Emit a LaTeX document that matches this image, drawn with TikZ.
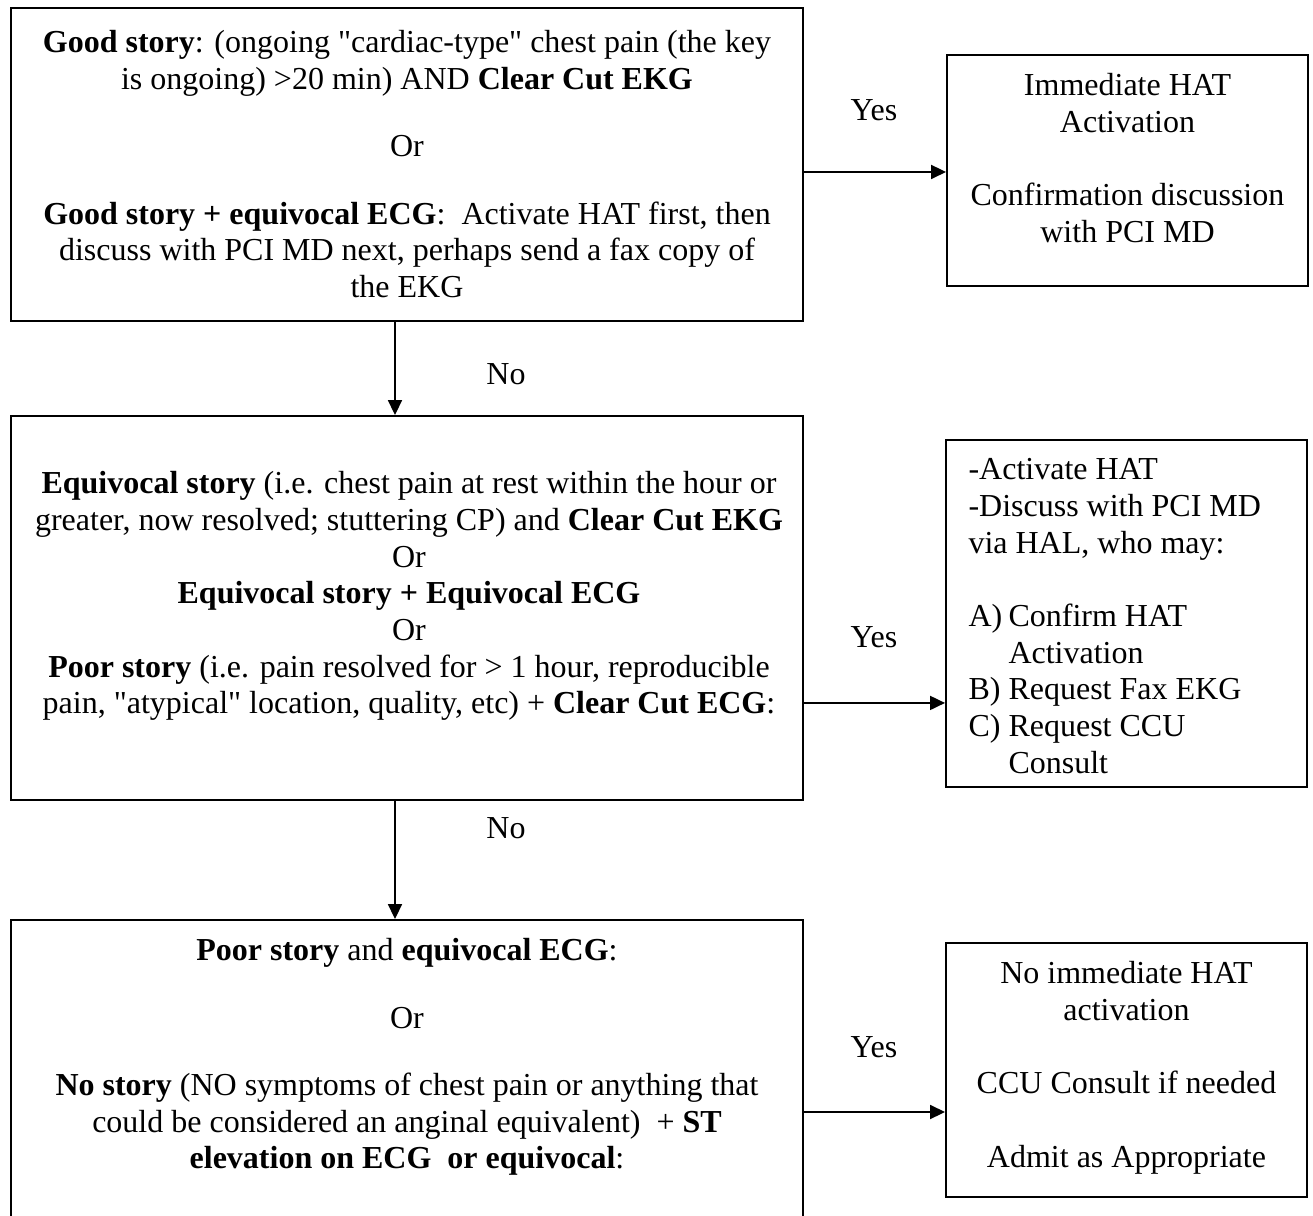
\documentclass[tikz,border=0pt]{standalone}
\usepackage{fontspec}
\setmainfont{Liberation Serif}
\usetikzlibrary{arrows.meta}
\usetikzlibrary{calc}

\begin{document}
\begin{tikzpicture}[x=0.375pt, y=-0.375pt, font=\fontsize{12}{13.75}\selectfont,
        box_style/.style={draw=black, line width=0.75pt, inner sep=0pt},
        main_box_style/.style={box_style, minimum width=297pt},
        side_box_style/.style={box_style, minimum width=135.375pt},
        text_style/.style={inner sep=0pt, align=center, anchor=north},
        list_style/.style={inner sep=0pt, align=left, anchor=north west},
        label_style/.style={inner sep=0pt},
        edge_style/.style={draw=black, line width=0.5pt, -{Triangle[length=5.6pt,width=5.3pt]}}]

        \useasboundingbox (0,0) rectangle (1313,1216);
        \clip (0,0) rectangle (1313,1216);

        % left column
        \node [main_box_style, minimum height=117.375pt](box1) at (407,164.5) {};
        \node [main_box_style, minimum height=144pt](box2) at (407,608) {};
        \node [main_box_style, minimum height=117pt](box3) at (407,1076) {};

        \node [text_style](text1) at (407,30) {\textbf{Good story}: (ongoing \textquotedbl cardiac-type\textquotedbl{} chest pain (the key\\
            is ongoing) >20 min) AND \textbf{Clear Cut EKG}\\[11.5pt]
            Or\\[11.5pt]
            \textbf{Good story + equivocal ECG}:\ \ Activate HAT first, then\\
            discuss with PCI MD next, perhaps send a fax copy of\\
            the EKG};

        \node [text_style](text2) at (409,471) {\textbf{Equivocal story} (i.e. chest pain at rest within the hour or\\
            greater, now resolved; stuttering CP) and \textbf{Clear Cut EKG}\\
            Or\\
            \textbf{Equivocal story + Equivocal ECG}\\
            Or\\
            \textbf{Poor story} (i.e. pain resolved for > 1 hour, reproducible\\
            pain, \textquotedbl atypical\textquotedbl{} location, quality, etc) + \textbf{Clear Cut ECG}:};

        \node [text_style](text3) at (407,938) {\textbf{Poor story} and \textbf{equivocal ECG}:\\[11.5pt]
            Or\\[11.5pt]
            \textbf{No story} (NO symptoms of chest pain or anything that\\
            could be considered an anginal equivalent)\ \ + \textbf{ST}\\
            \textbf{elevation on ECG\ \ or equivocal}:};

        % right column
        \node [side_box_style, minimum height=86.625pt](res1) at (1127.5,170.5) {};
        \node [side_box_style, minimum height=130.125pt](res2) at (1126.5,613.5) {};
        \node [side_box_style, minimum height=95.25pt](res3) at (1126.5,1070) {};

        \node [text_style](restext1) at (1127.5,73) {Immediate HAT\\ Activation\\[13.75pt]
            Confirmation discussion\\ with PCI MD};

        \node [list_style](restext2) at (968,458) {-Activate HAT\\ -Discuss with PCI MD\\ via HAL, who may:\\[13.75pt]
            \makebox[15pt][l]{A)}Confirm HAT\\ \hspace*{15pt}Activation\\
            \makebox[15pt][l]{B)}Request Fax EKG\\
            \makebox[15pt][l]{C)}Request CCU\\ \hspace*{15pt}Consult};

        \node [text_style](restext3) at (1126.5,961) {No immediate HAT\\ activation\\[13.75pt]
            CCU Consult if needed\\[13.75pt] Admit as Appropriate};

        % connectors
        \draw [edge_style] ([yshift=-2.8pt]box1.east) -- ([yshift=-2.8pt]box1.east -| res1.west);
        \draw [edge_style] ([yshift=-35.6pt]box2.east) -- ([yshift=-35.6pt]box2.east -| res2.west);
        \draw [edge_style] ([yshift=-13.5pt]box3.east) -- ([yshift=-13.5pt]box3.east -| res3.west);

        \draw [edge_style] ([xshift=-4.5pt]box1.south) -- ([xshift=-4.5pt]box2.north);
        \draw [edge_style] ([xshift=-4.5pt]box2.south) -- ([xshift=-4.5pt]box3.north);

        \node [label_style](yes1) at (874,110) {Yes};
        \node [label_style](yes2) at (874,637) {Yes};
        \node [label_style](yes3) at (874,1047) {Yes};
        \node [label_style](no1) at (506,374) {No};
        \node [label_style](no2) at (506,828) {No};

\end{tikzpicture}
\end{document}
